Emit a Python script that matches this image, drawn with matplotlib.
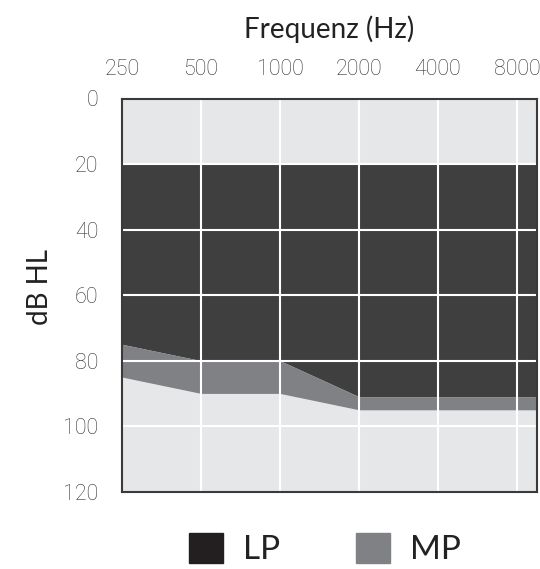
import numpy as np
import matplotlib.pyplot as plt
from matplotlib.patches import Patch

plt.rcParams['font.family'] = ['Lato', 'DejaVu Sans']

# Audiogramm-Daten (Frequenz in Hz, Hörverlust in dB HL)
freqs = [250, 500, 1000, 2000, 4000, 8000, 9540]
tick_freqs = [250, 500, 1000, 2000, 4000, 8000]
lp_top = [20, 20, 20, 20, 20, 20, 20]
lp_bottom = [75, 80, 80, 91, 91, 91, 91]
mp_bottom = [85, 90, 90, 95, 95, 95, 95]
db_ticks = [0, 20, 40, 60, 80, 100, 120]

bg_col = '#e6e7e8'
lp_col = '#3f3f40'
mp_col = '#808184'
lp_leg_col = '#231f20'

fig = plt.figure(figsize=(5.4, 5.69), dpi=100)
ax = fig.add_axes([122 / 540, 1 - 491.7 / 569, 415 / 540, 393.2 / 569])
ax.set_facecolor(bg_col)

ax.set_xscale('log')
ax.set_xlim(250, 9540)
ax.set_ylim(120, 0)

# Flächen
ax.fill_between(freqs, lp_top, lp_bottom, color=lp_col, linewidth=0, zorder=1)
ax.fill_between(freqs, lp_bottom, mp_bottom, color=mp_col, linewidth=0, zorder=1)

# Gitter
for f in tick_freqs[1:]:
    ax.axvline(f, color='white', linewidth=1.5, zorder=2)
for d in db_ticks[1:-1]:
    ax.axhline(d, color='white', linewidth=1.5, zorder=2)

ax.xaxis.tick_top()
ax.set_xticks(tick_freqs)
ax.set_xticklabels([str(f) for f in tick_freqs])
ax.xaxis.set_minor_locator(plt.NullLocator())
ax.set_yticks(db_ticks)
ax.tick_params(axis='both', length=0, labelsize=15.5, colors='#333333')
ax.tick_params(axis='x', pad=13)
ax.tick_params(axis='y', pad=17)
for lbl in ax.get_xticklabels() + ax.get_yticklabels():
    lbl.set_family(['Roboto', 'DejaVu Sans'])
    lbl.set_fontweight('light')

for s in ax.spines.values():
    s.set_color('#3a3a3a')
    s.set_linewidth(1.5)
    s.set_zorder(3)

fig.text(40 / 540, 1 - 287 / 569, 'dB HL', fontsize=20, color='#222222',
         rotation=90, ha='center', va='center')
fig.text(329 / 540, 1 - 29 / 569, 'Frequenz (Hz)', fontsize=20, color='#222222',
         ha='center', va='center')

# Legende
handles = [Patch(color=lp_leg_col, label='LP'), Patch(color=mp_col, label='MP')]
fig.legend(handles=handles, loc='center', bbox_to_anchor=(325 / 540, 1 - 549 / 569),
           ncol=2, frameon=False, fontsize=24, handlelength=1.0, handleheight=1.0,
           handletextpad=0.6, columnspacing=2.3, labelcolor='#222222',
           borderpad=0, borderaxespad=0)

plt.savefig('out.png', dpi=100)
